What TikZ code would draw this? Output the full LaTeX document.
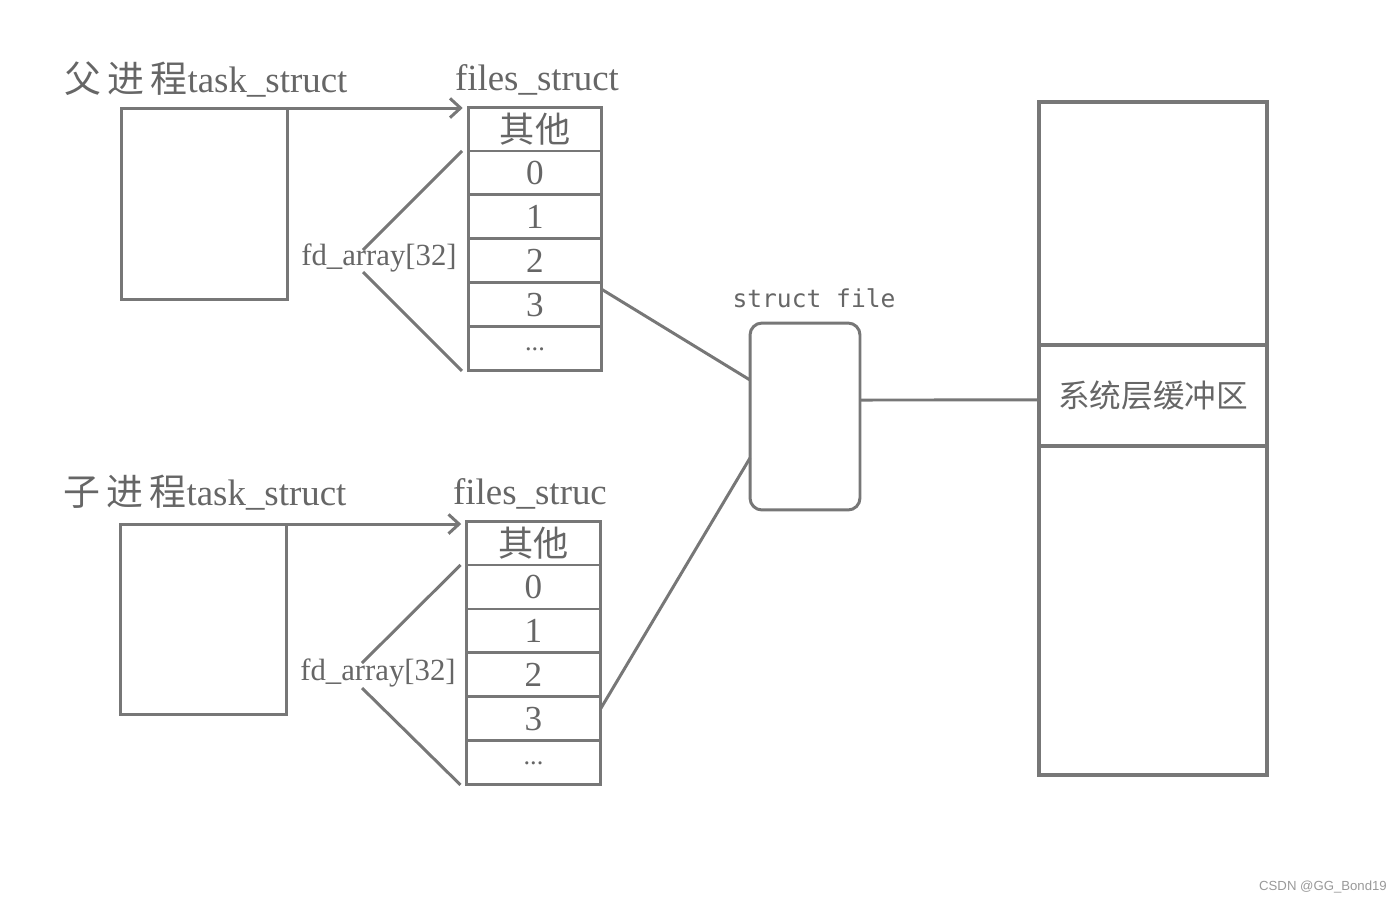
\documentclass[tikz,border=0pt]{standalone}
\usepackage{fontspec}
\setmainfont{Liberation Serif}
\setmonofont{DejaVu Sans Mono}
\newfontfamily\cjk{Noto Sans CJK SC}
\newfontfamily\wmfont{Liberation Sans}
\usetikzlibrary{arrows.meta, positioning}
\definecolor{linegray}{HTML}{777777}
\definecolor{textgray}{HTML}{666666}
\tikzset{
  frame/.style={draw=linegray, line width=1.7pt, outer sep=0pt},
  taskbox/.style={frame, minimum width=3.34cm, minimum height=3.84cm},
  cell/.style={frame, minimum width=2.68cm, minimum height=0.88cm, inner sep=0pt, text=textgray, font=\fontsize{20}{20}\selectfont},
  title/.style={text=textgray, font=\fontsize{21}{23}\selectfont, inner sep=0pt},
  fdlabel/.style={text=textgray, font=\fontsize{17.5}{19}\selectfont, inner sep=0pt},
  filebox/.style={frame, rounded corners=0.24cm, minimum width=2.2cm, minimum height=3.74cm},
  bufpart/.style={draw=linegray, line width=2.3pt, outer sep=0pt, minimum width=4.56cm, inner sep=0pt},
  line/.style={draw=linegray, line width=1.7pt},
  ptr/.style={line, -{Straight Barb[length=6pt, width=11pt, line width=1.7pt]}, shorten >=3pt}
}

\begin{document}
\begin{tikzpicture}[x=0.02cm, y=-0.02cm]
    \useasboundingbox (0,0) rectangle (1400,903);
    % parent process
    \node[title] (ptitle) at (206,80) {{\cjk 父\,进\,程}task\_struct};
    \node[taskbox] (ptask) at (204.5,204) {};
    \node[title] (pfiles) at (537,80) {files\_struct};
    \node[cell] (pother) at (535,129) {\cjk 其他};
    \node[cell, below=0pt of pother] (p0) {0};
    \node[cell, below=0pt of p0] (p1) {1};
    \node[cell, below=0pt of p1] (p2) {2};
    \node[cell, below=0pt of p2] (p3) {3};
    \node[cell, below=0pt of p3, font=\fontsize{15}{15}\selectfont] (pdots) {...};
    \node[fdlabel] (pfd) at (379,258) {fd\_array[32]};
    \coordinate (pfdtop) at (363,250);
    \coordinate (pfdbot) at (363,272);
    \draw[ptr] (ptask.north east) -- (ptask.north east -| pother.west);
    \draw[line] (pfdtop) -- ([xshift=-0.12cm]p0.north west);
    \draw[line] (pfdbot) -- ([xshift=-0.12cm]pdots.south west);

    % child process
    \node[title] (ctitle) at (205,493) {{\cjk 子\,进\,程}task\_struct};
    \node[taskbox, minimum height=3.82cm] (ctask) at (203.5,619.5) {};
    \node[title] (cfiles) at (530,494) {files\_struc};
    \node[cell] (cother) at (533.5,543) {\cjk 其他};
    \node[cell, below=0pt of cother] (c0) {0};
    \node[cell, below=0pt of c0] (c1) {1};
    \node[cell, below=0pt of c1] (c2) {2};
    \node[cell, below=0pt of c2] (c3) {3};
    \node[cell, below=0pt of c3, font=\fontsize{15}{15}\selectfont] (cdots) {...};
    \node[fdlabel] (cfd) at (378,673) {fd\_array[32]};
    \coordinate (cfdtop) at (362,663);
    \coordinate (cfdbot) at (362,688);
    \draw[ptr] (ctask.north east) -- (ctask.north east -| cother.west);
    \draw[line] (cfdtop) -- ([xshift=-0.12cm]c0.north west);
    \draw[line] (cfdbot) -- ([xshift=-0.12cm]cdots.south west);

    % struct file
    \node[text=textgray, font=\ttfamily\fontsize{14}{16}\selectfont, inner sep=0pt] (sftitle) at (814,298) {struct file};
    \node[filebox] (sfile) at (805,416.5) {};
    \draw[line] ([yshift=0.31cm]p3.east) -- ([yshift=0.73cm]sfile.west);
    \draw[line] ([yshift=0.2cm]c3.east) -- ([yshift=-0.83cm]sfile.west);

    % system buffer
    \node[bufpart, minimum height=4.86cm] (buftop) at (1153,223.5) {};
    \node[bufpart, minimum height=2.02cm, below=0pt of buftop, text=textgray, font=\cjk\fontsize{18}{20}\selectfont] (bufmid) {系统层缓冲区};
    \node[bufpart, minimum height=6.58cm, below=0pt of bufmid] (bufbot) {};
    \draw[line] ([yshift=0.33cm]sfile.east) -- ([yshift=-0.09cm]bufmid.west);

    \node[text=gray!80, font=\wmfont\fontsize{7.5}{9}\selectfont, inner sep=0pt] (mark) at (1323,887) {CSDN @GG\_Bond19};
\end{tikzpicture}
\end{document}
